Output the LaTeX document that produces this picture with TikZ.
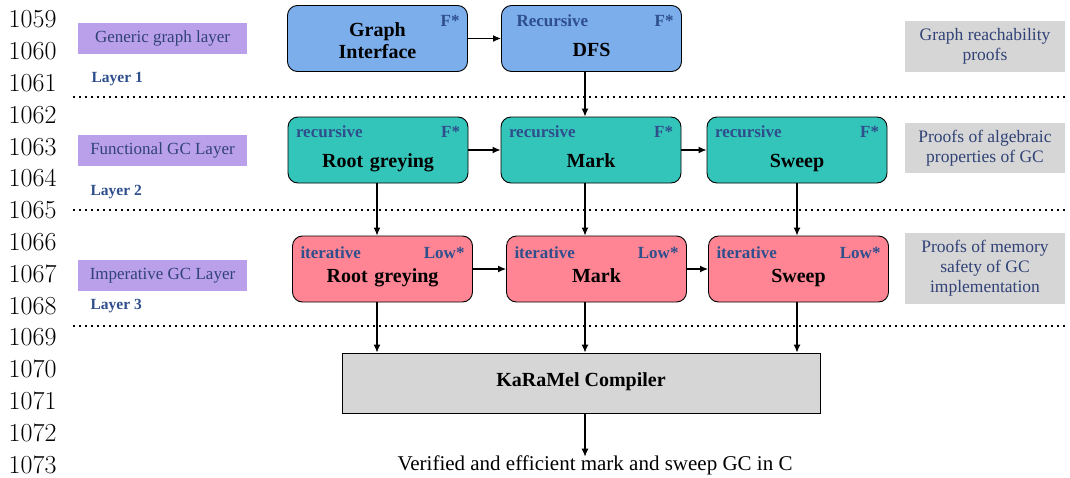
\documentclass[tikz,border=0pt]{standalone}
\usepackage{fontspec}
\newfontfamily\libfont{Liberation Serif}
\usetikzlibrary{arrows.meta}

\definecolor{graphblue}{RGB}{124,174,236}
\definecolor{functeal}{RGB}{52,197,186}
\definecolor{imppink}{RGB}{255,133,148}
\definecolor{layerpurple}{RGB}{186,160,234}
\definecolor{proofgrey}{RGB}{214,214,214}
\definecolor{tagblue}{RGB}{46,78,140}
\definecolor{labelblue}{RGB}{48,66,118}

% small corner tags inside the boxes
\newcommand{\tagtext}[1]{{\fontsize{17}{20}\selectfont\color{tagblue}#1}}
% invisible depth below the main label
\newcommand{\lowstrut}[1]{\rule[-#1]{0pt}{#1}}

\tikzset{
  layerbox/.style={fill=layerpurple, minimum width=169pt, minimum height=31pt,
    text=labelblue, font=\libfont\fontsize{17}{20}\selectfont},
  layertag/.style={anchor=west, text=tagblue, font=\libfont\fontsize{15.5}{18}\selectfont\bfseries},
  stagebox/.style={draw=black, line width=0.9pt, rounded corners=10pt, text width=164pt,
    minimum height=66pt, inner xsep=8pt, inner ysep=0pt, align=center,
    font=\libfont\fontsize{20}{24}\selectfont\bfseries},
  proofbox/.style={fill=proofgrey, minimum width=160pt, text=labelblue, align=center,
    font=\libfont\fontsize{17.5}{20}\selectfont},
  lineno/.style={anchor=east, font=\fontsize{26}{26}\selectfont},
  layersep/.style={line width=1.5pt, dash pattern=on 1.5pt off 4.5pt},
  flowarrow/.style={-{Latex[length=8pt,width=7pt]}, line width=1.2pt},
}

\begin{document}
\begin{tikzpicture}[x=1pt, y=-1pt]
    \useasboundingbox (0,0) rectangle (1070,477);

    % Line numbers of the page
    \foreach \n [count=\i from 0] in {1059,...,1073}
        \node[lineno] (ln\n) at (60,19.5+31.8*\i) {\n};

    % Layer names on the left
    \node[layerbox] (generic) at (162.5,38.5) {Generic graph layer};
    \node[layerbox] (functional) at (162.5,150.5) {Functional GC Layer};
    \node[layerbox] (imperative) at (162.5,275.5) {Imperative GC Layer};
    \node[layertag] (layer1) at (88,79) {Layer 1};
    \node[layertag] (layer2) at (87,192) {Layer 2};
    \node[layertag] (layer3) at (87,306) {Layer 3};

    % Dotted separators between the layers
    \draw[layersep] (73,97) -- (1065,97);
    \draw[layersep] (73,210) -- (1065,210);
    \draw[layersep] (73,326) -- (1065,326);

    % Layer 1: generic graph
    \node[stagebox, fill=graphblue] (gi) at (377.5,38.5)
        {\hfill\tagtext{F*}\\[-14pt]Graph\\[-2pt]Interface\lowstrut{4pt}};
    \node[stagebox, fill=graphblue] (dfs) at (591.5,38.5)
        {\hspace*{7pt}\tagtext{Recursive}\hfill\tagtext{F*}\\[6pt]DFS\lowstrut{6pt}};

    % Layer 2: functional GC
    \node[stagebox, fill=functeal] (frg) at (378,150)
        {\tagtext{recursive}\hfill\tagtext{F*}\hspace*{6pt}\\[6pt]Root greying\lowstrut{6pt}};
    \node[stagebox, fill=functeal] (fmark) at (591,150)
        {\tagtext{recursive}\hfill\tagtext{F*}\hspace*{6pt}\\[6pt]Mark\lowstrut{6pt}};
    \node[stagebox, fill=functeal] (fsweep) at (797,150)
        {\tagtext{recursive}\hfill\tagtext{F*}\hspace*{6pt}\\[6pt]Sweep\lowstrut{6pt}};

    % Layer 3: imperative GC
    \node[stagebox, fill=imppink] (irg) at (382.5,269)
        {\tagtext{iterative}\hfill\tagtext{Low*}\hspace*{-3pt}\\[0pt]Root greying\lowstrut{8pt}};
    \node[stagebox, fill=imppink] (imark) at (596.5,269)
        {\tagtext{iterative}\hfill\tagtext{Low*}\hspace*{-3pt}\\[0pt]Mark\lowstrut{8pt}};
    \node[stagebox, fill=imppink] (isweep) at (798.5,269)
        {\tagtext{iterative}\hfill\tagtext{Low*}\hspace*{-3pt}\\[0pt]Sweep\lowstrut{8pt}};

    % Proof boxes on the right
    \node[proofbox, minimum height=51pt] (reach) at (985,46.5) {Graph reachability\\proofs};
    \node[proofbox, minimum height=50pt] (algebra) at (985,148) {Proofs of algebraic\\properties of GC};
    \node[proofbox, minimum height=71pt] (memory) at (985,268.5) {Proofs of memory\\safety of GC\\implementation};

    % Compiler and result
    \node[draw=black, line width=0.9pt, fill=proofgrey, minimum width=478pt, minimum height=60pt,
        font=\libfont\fontsize{20}{24}\selectfont\bfseries] (karamel) at (581,383)
        {KaRaMel Compiler\lowstrut{6pt}};
    \node[anchor=base, font=\libfont\fontsize{21}{24}\selectfont] (out) at (595,470)
        {Verified and efficient mark and sweep GC in C};

    % Columns of the vertical arrows
    \coordinate (rootcol) at (377,0);
    \coordinate (midcol) at (585,0);
    \coordinate (sweepcol) at (797,0);

    % Horizontal arrows
    \draw[flowarrow] (gi) -- (dfs);
    \draw[flowarrow] (frg) -- (fmark);
    \draw[flowarrow] (fmark) -- (fsweep);
    \draw[flowarrow] (irg) -- (imark);
    \draw[flowarrow] (imark) -- (isweep);

    % Vertical arrows
    \draw[flowarrow] (dfs.south -| midcol) -- (fmark.north -| midcol);
    \draw[flowarrow] (frg.south -| rootcol) -- (irg.north -| rootcol);
    \draw[flowarrow] (fmark.south -| midcol) -- (imark.north -| midcol);
    \draw[flowarrow] (fsweep.south -| sweepcol) -- (isweep.north -| sweepcol);
    \draw[flowarrow] (irg.south -| rootcol) -- (karamel.north -| rootcol);
    \draw[flowarrow] (imark.south -| midcol) -- (karamel.north -| midcol);
    \draw[flowarrow] (isweep.south -| sweepcol) -- (karamel.north -| sweepcol);
    \draw[flowarrow] (karamel.south -| midcol) -- ([yshift=-5pt]out.north -| midcol);
\end{tikzpicture}
\end{document}
